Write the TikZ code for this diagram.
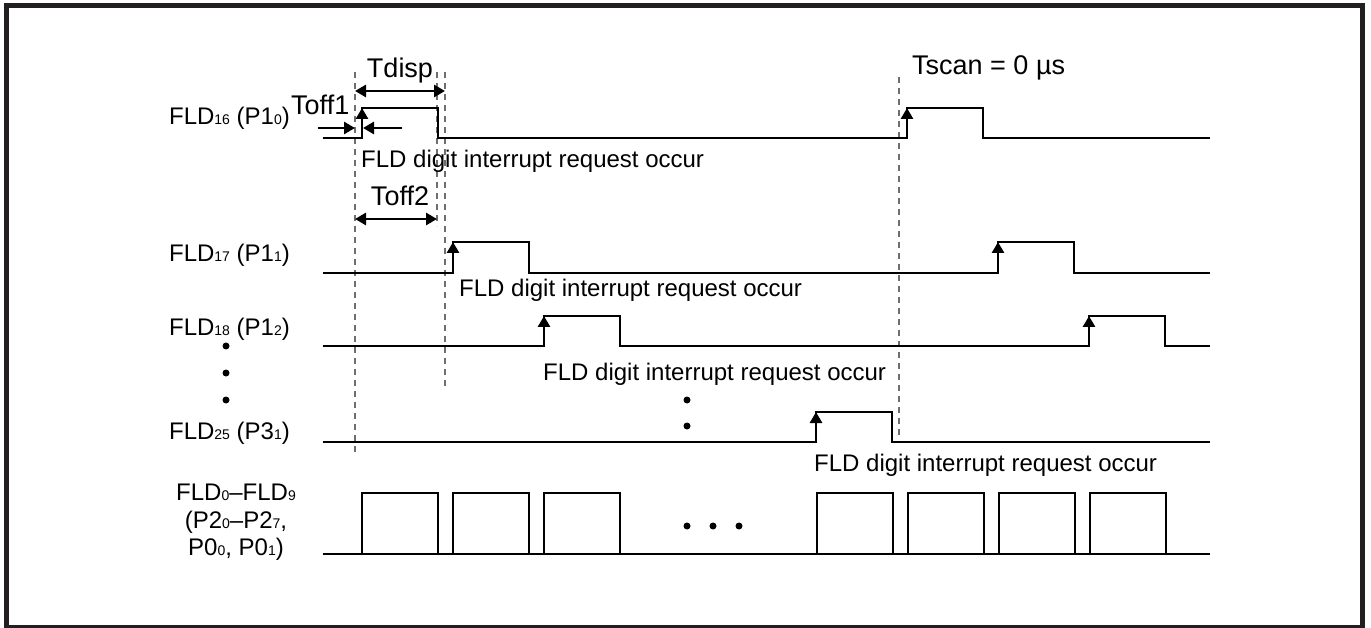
\documentclass[tikz,border=0pt]{standalone}
\usepackage{fontspec}
\setmainfont{Liberation Sans}
\usetikzlibrary{arrows.meta}
\definecolor{Ink}{HTML}{231F20}
\definecolor{Guide}{HTML}{6E6E6E}
\newcommand{\sbs}[1]{{\fontsize{14}{14}\selectfont #1}}
\tikzset{
  sig/.style={line width=2.8pt, draw=black},
  rise/.style={-{Triangle[length=11pt,width=12pt]}, line width=2.8pt, draw=black},
  box/.style={line width=2.6pt, draw=black},
  guide/.style={draw=Guide, line width=1.4pt, dash pattern=on 6pt off 5pt},
  dim/.style={{Triangle[length=11pt,width=12pt]}-{Triangle[length=11pt,width=12pt]}, line width=2.8pt},
  oneway/.style={-{Triangle[length=11pt,width=12pt]}, line width=2.8pt},
  lbl/.style={inner sep=0pt, font=\fontsize{24}{27.5}\selectfont},
  tlbl/.style={inner sep=0pt, font=\fontsize{27}{30}\selectfont}
}
\begin{document}
\begin{tikzpicture}[x=1pt,y=-1pt]
    \useasboundingbox (0,0) rectangle (1371,628);
    \draw[line width=5pt, draw=Ink] (6.5,5.5) rectangle (1362.5,627.5);
    % guide lines
    \coordinate (g0top) at (355,72);  \coordinate (g0bot) at (355,452);
    \coordinate (g1top) at (437,72);  \coordinate (g1bot) at (437,226);
    \coordinate (g2top) at (445,72);  \coordinate (g2bot) at (445,387);
    \coordinate (g3top) at (899,77);  \coordinate (g3bot) at (899,437);
    \draw[guide] (g0top) -- (g0bot);
    \draw[guide] (g1top) -- (g1bot);
    \draw[guide] (g2top) -- (g2bot);
    \draw[guide] (g3top) -- (g3bot);
    % FLD16
    \draw[sig] (323,138) -| (362,108) -| (438,138) -| (907,108) -| (983,138) -- (1210,138);
    \draw[rise] (362,138) -- (362,108);
    \draw[rise] (907,138) -- (907,108);
    % FLD17
    \draw[sig] (323,273) -| (453,242) -| (529,273) -| (998,242) -| (1074,273) -- (1210,273);
    \draw[rise] (453,273) -- (453,242);
    \draw[rise] (998,273) -- (998,242);
    % FLD18
    \draw[sig] (323,346) -| (544,316) -| (620,346) -| (1089,316) -| (1165,346) -- (1210,346);
    \draw[rise] (544,346) -- (544,316);
    \draw[rise] (1089,346) -- (1089,316);
    % FLD25
    \draw[sig] (323,442) -| (816,412) -| (892,442) -- (1210,442);
    \draw[rise] (816,442) -- (816,412);
    % segment outputs
    \draw[sig] (323,554) -- (1210,554);
    \foreach \k in {0,1,2,5,6,7,8}
      \draw[box] (362+91*\k,554) rectangle ++(76,-61);
    % timing marks
    \coordinate (tdA) at (355,91);  \coordinate (tdB) at (445,91);
    \coordinate (t2A) at (355,219); \coordinate (t2B) at (437,219);
    \coordinate (t1L) at (318,128); \coordinate (t1R) at (402,128);
    \draw[dim] (tdA) -- (tdB);
    \draw[dim] (t2A) -- (t2B);
    \draw[oneway] (t1L) -- (355,128);
    \draw[oneway] (t1R) -- (363,128);
    \node[tlbl,anchor=base] (tdisp) at (400,78) {Tdisp};
    \node[tlbl,anchor=base] (toff2) at (400,206) {Toff2};
    \node[tlbl,anchor=base west] (toff1) at (291,115) {Toff1};
    \node[tlbl,anchor=base west] (tscan) at (912,75) {Tscan = 0 µs};
    % signal names
    \node[lbl,anchor=base east] (n16) at (290,125) {FLD\sbs{16} (P1\sbs{0})};
    \node[lbl,anchor=base east] (n17) at (290,262) {FLD\sbs{17} (P1\sbs{1})};
    \node[lbl,anchor=base east] (n18) at (290,335) {FLD\sbs{18} (P1\sbs{2})};
    \node[lbl,anchor=base east] (n25) at (290,439) {FLD\sbs{25} (P3\sbs{1})};
    \node[lbl,align=center,anchor=north] (nseg) at (236,484) {FLD\sbs{0}–FLD\sbs{9}\\(P2\sbs{0}–P2\sbs{7},\\P0\sbs{0}, P0\sbs{1})};
    % interrupt notes
    \node[lbl,anchor=base west] (irq16) at (361,168) {FLD digit interrupt request occur};
    \node[lbl,anchor=base west] (irq17) at (459,297) {FLD digit interrupt request occur};
    \node[lbl,anchor=base west] (irq18) at (543,381) {FLD digit interrupt request occur};
    \node[lbl,anchor=base west] (irq25) at (814,471) {FLD digit interrupt request occur};
    % ellipsis dots
    \foreach \y in {346,373,400} \fill (226,\y) circle (3.5);
    \foreach \y in {400,426} \fill (687,\y) circle (3.5);
    \foreach \x in {687,713,739} \fill (\x,526) circle (3.5);
\end{tikzpicture}
\end{document}
